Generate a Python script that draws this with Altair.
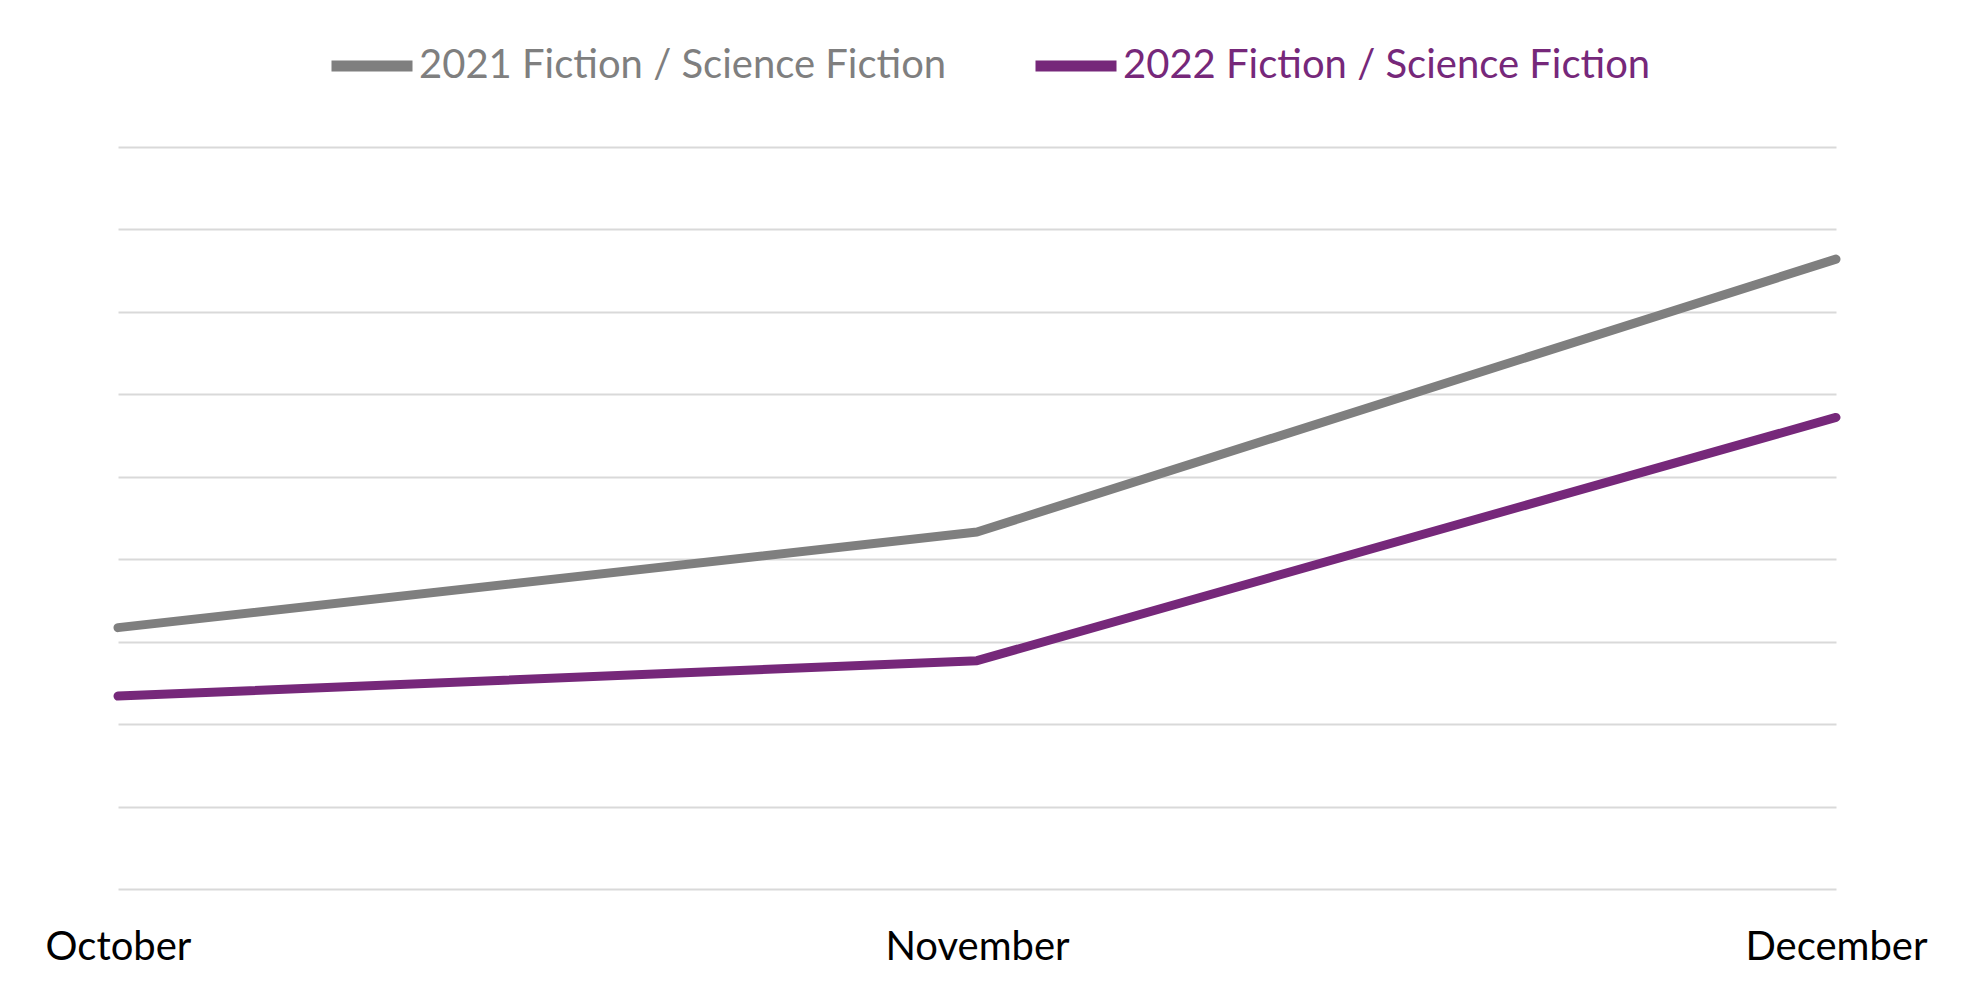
import altair as alt
import pandas as pd

months = ["October", "November", "December"]
series_2021 = [3.17, 4.33, 7.64]
series_2022 = [2.34, 2.77, 5.72]
series_names = ["2021 Fiction / Science Fiction", "2022 Fiction / Science Fiction"]
colors = ["#7f7f7f", "#76287a"]

rows = []
for name, vals in zip(series_names, [series_2021, series_2022]):
    for m, v in zip(months, vals):
        rows.append({"month": m, "value": v, "series": name})
df = pd.DataFrame(rows)

label_color_expr = (
    f"datum.label == '{series_names[0]}' ? '{colors[0]}' : '{colors[1]}'"
)

chart = alt.Chart(df).mark_line(strokeWidth=9, strokeCap="round", strokeJoin="round").encode(
    x=alt.X("month:N", sort=months,
            scale=alt.Scale(type="point", padding=0),
            axis=alt.Axis(title=None, labelAngle=0, domain=False, ticks=False, grid=False,
                          labelFont="Lato", labelFontSize=40, labelColor="#000000",
                          labelBaseline="top", labelPadding=38, labelLimit=1000)),
    y=alt.Y("value:Q", scale=alt.Scale(domain=[0, 9], nice=False, zero=True),
            axis=alt.Axis(title=None, labels=False, domain=False, ticks=False,
                          values=list(range(10)), grid=True,
                          gridColor="#d9d9d9", gridWidth=2)),
    color=alt.Color("series:N", sort=series_names,
                    scale=alt.Scale(domain=series_names, range=colors),
                    legend=alt.Legend(title=None, orient="none", direction="horizontal",
                                      legendX=208, legendY=-127,
                                      symbolType="stroke", symbolSize=6561,
                                      symbolStrokeWidth=11, labelOffset=1,
                                      columnPadding=66, padding=0,
                                      labelFont="Lato", labelFontSize=40,
                                      labelLimit=1000,
                                      labelColor=alt.ExprRef(expr=label_color_expr))),
).properties(
    width=1718, height=742,
    padding={"left": 110, "top": 139, "right": 120, "bottom": 100},
    autosize="none",
    background="#ffffff",
).configure_view(strokeWidth=0, stroke=None)

chart.save("out.html", embed_options={"renderer": "svg", "actions": False})
